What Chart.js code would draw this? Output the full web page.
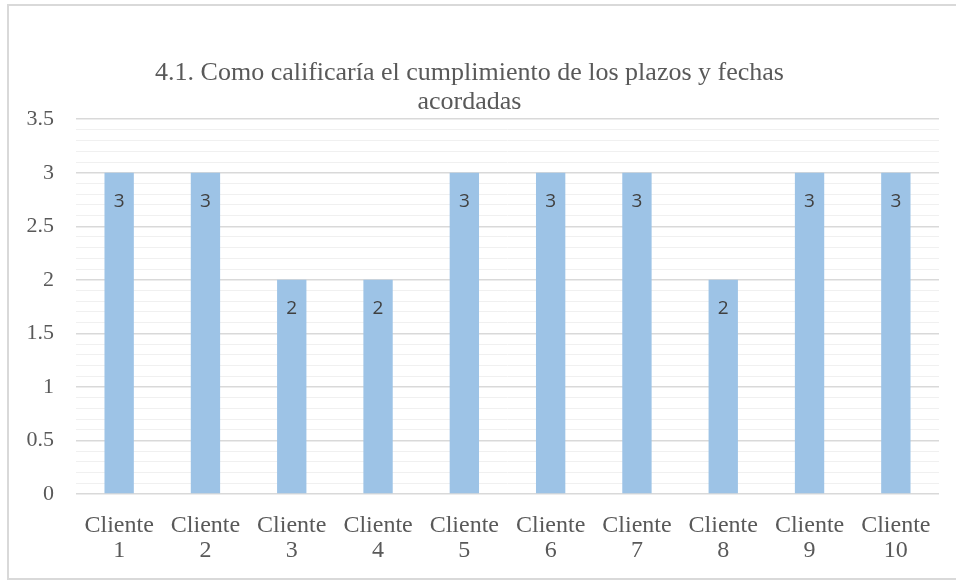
<!DOCTYPE html>
<html>
<head>
<meta charset="utf-8">
<script src="https://cdn.jsdelivr.net/npm/chart.js@4"></script>
<style>
  body { margin: 0; background: #fff; }
  #frame { position: absolute; left: 7px; top: 4px; width: 970px; height: 572px; border: 2px solid #d9d9d9; }
  #wrap { position: absolute; left: 0; top: 0; width: 956px; height: 580px; }
</style>
</head>
<body>
<div id="frame"></div>
<div id="wrap"><canvas id="chart"></canvas></div>
<script>
const categories = [['Cliente', '1'], ['Cliente', '2'], ['Cliente', '3'], ['Cliente', '4'], ['Cliente', '5'],
                    ['Cliente', '6'], ['Cliente', '7'], ['Cliente', '8'], ['Cliente', '9'], ['Cliente', '10']];
const ratings = [3, 3, 2, 2, 3, 3, 3, 2, 3, 3];
const chartTitle = ['4.1. Como calificaría el cumplimiento de los plazos y fechas', 'acordadas'];

function isMajor(v) {
    return Math.abs(v * 2 - Math.round(v * 2)) < 1e-6;
}

// value labels just inside the top of each bar
const barLabels = {
    id: 'barLabels',
    afterDatasetsDraw(chart) {
        const ctx = chart.ctx;
        const meta = chart.getDatasetMeta(0);
        ctx.save();
        ctx.font = '19px "Open Sans"';
        ctx.fillStyle = '#404040';
        ctx.textAlign = 'center';
        ctx.textBaseline = 'middle';
        meta.data.forEach((bar, i) => {
            ctx.fillText(String(ratings[i]), bar.x, bar.y + 29);
        });
        ctx.restore();
    }
};

new Chart(document.getElementById('chart'), {
    type: 'bar',
    data: {
        labels: categories,
        datasets: [{
            data: ratings,
            backgroundColor: '#9dc3e6',
            borderWidth: 0,
            categoryPercentage: 1,
            barPercentage: 0.34
        }]
    },
    options: {
        responsive: true,
        maintainAspectRatio: false,
        animation: false,
        layout: { padding: { left: 0, right: 17, top: 0, bottom: 0 } },
        plugins: {
            legend: { display: false },
            tooltip: { enabled: false },
            title: {
                display: true,
                text: chartTitle,
                color: '#595959',
                font: { family: '"Liberation Serif", serif', size: 26, weight: 'normal', lineHeight: 1.1 },
                padding: { top: 59, bottom: 3 }
            }
        },
        scales: {
            x: {
                grid: { display: false, drawTicks: false },
                border: { display: false },
                ticks: {
                    color: '#595959',
                    padding: 19,
                    maxRotation: 0,
                    font: { family: '"Liberation Serif", serif', size: 24, lineHeight: 1.04 }
                },
                afterFit(scale) { scale.height = 86; }
            },
            y: {
                min: 0,
                max: 3.5,
                border: { display: false },
                grid: {
                    drawTicks: false,
                    color: c => isMajor(c.tick.value) ? '#d9d9d9' : '#f0f0f0',
                    lineWidth: c => isMajor(c.tick.value) ? 1.5 : 1
                },
                ticks: {
                    stepSize: 0.1,
                    autoSkip: false,
                    padding: 22,
                    color: '#595959',
                    font: { family: '"Liberation Serif", serif', size: 22 },
                    callback: v => isMajor(v) ? String(Math.round(v * 2) / 2) : ''
                },
                afterFit(scale) { scale.width = 76; }
            }
        }
    },
    plugins: [barLabels]
});
</script>
</body>
</html>
